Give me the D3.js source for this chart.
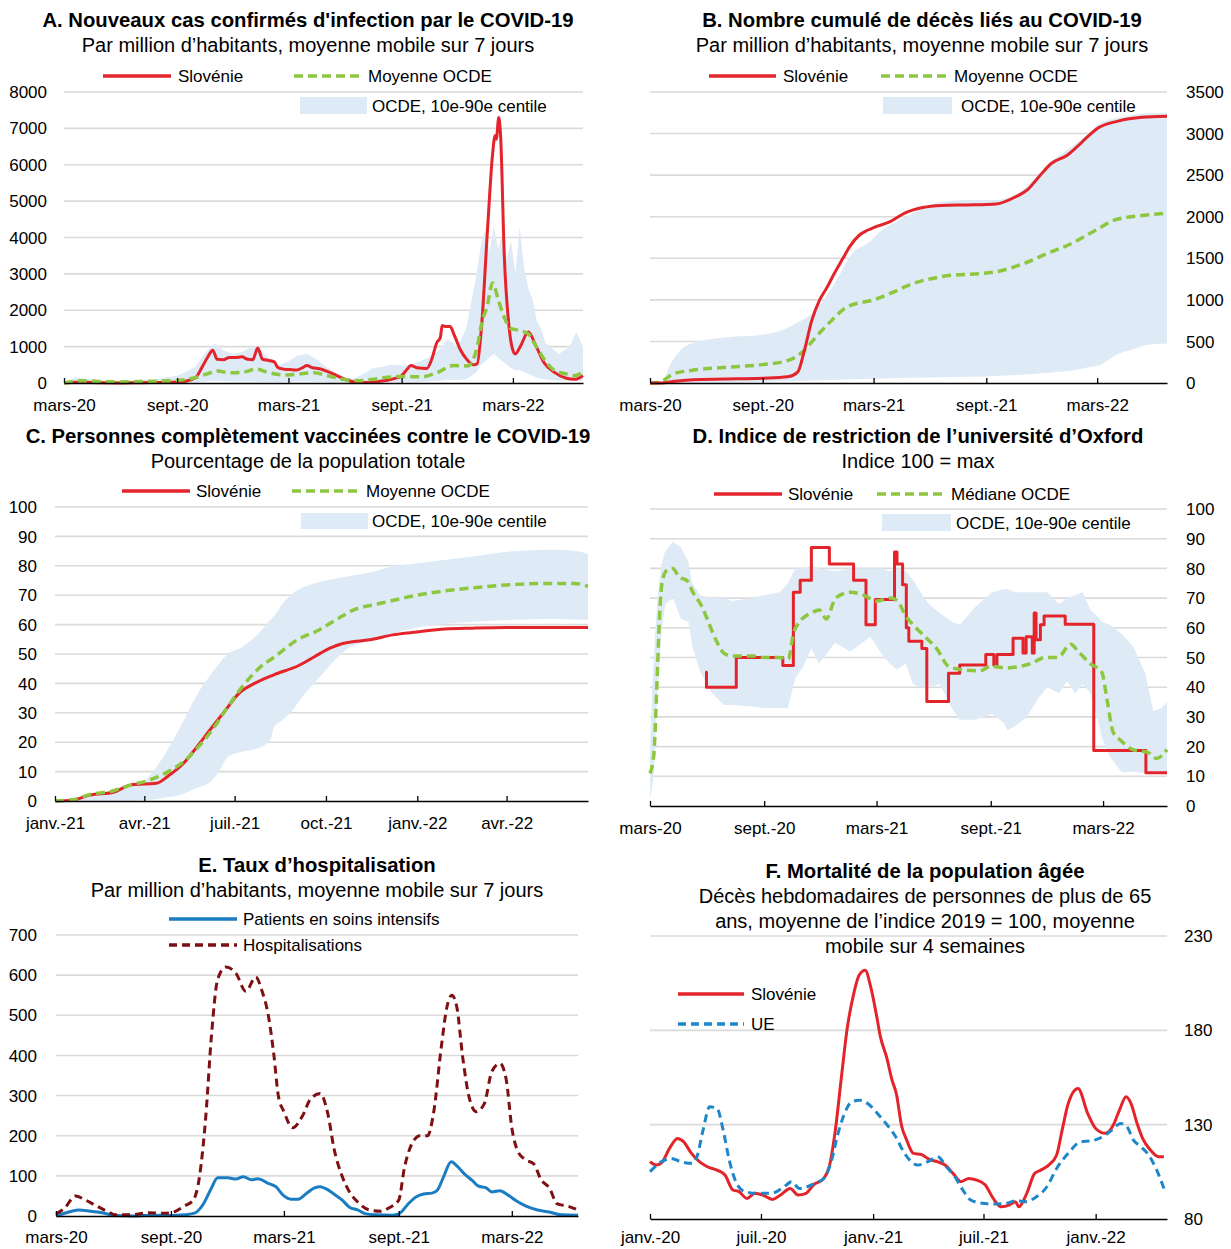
<!DOCTYPE html>
<html lang="fr">
<head>
<meta charset="utf-8">
<script src="https://cdn.jsdelivr.net/npm/d3@7"></script>
<style>
  body { margin: 0; background: #fff; }
  svg { display: block; }
</style>
</head>
<body>
<svg id="chart" width="1231" height="1249"></svg>
<script>
// ---------- Data ----------
// A. New confirmed cases per million, 7-day average
const casesSlovenia = [["2020-03-01",0],["2020-03-20",20],["2020-04-01",30],["2020-04-15",15],["2020-05-01",5],["2020-06-01",3],["2020-07-01",10],["2020-08-01",15],["2020-09-01",25],["2020-09-15",50],["2020-10-01",150],["2020-10-12",450],["2020-10-22",750],["2020-10-29",900],["2020-11-05",650],["2020-11-15",640],["2020-11-25",700],["2020-12-05",700],["2020-12-15",720],["2020-12-25",650],["2021-01-02",640],["2021-01-10",960],["2021-01-18",650],["2021-01-28",620],["2021-02-06",580],["2021-02-12",420],["2021-02-22",380],["2021-03-03",370],["2021-03-15",360],["2021-03-25",430],["2021-03-31",480],["2021-04-09",420],["2021-04-20",390],["2021-04-28",350],["2021-05-10",270],["2021-05-23",170],["2021-06-05",80],["2021-06-20",20],["2021-07-05",15],["2021-07-20",30],["2021-08-06",70],["2021-08-20",120],["2021-09-01",200],["2021-09-10",380],["2021-09-16",480],["2021-09-26",420],["2021-10-12",400],["2021-10-21",700],["2021-10-28",1100],["2021-11-03",1250],["2021-11-06",1580],["2021-11-12",1550],["2021-11-19",1550],["2021-11-26",1300],["2021-12-06",900],["2021-12-16",650],["2021-12-27",500],["2022-01-02",530],["2022-01-09",1550],["2022-01-19",4300],["2022-01-27",6300],["2022-01-31",6800],["2022-02-02",6700],["2022-02-06",7300],["2022-02-09",6800],["2022-02-15",3500],["2022-02-23",1500],["2022-03-01",900],["2022-03-05",800],["2022-03-13",1000],["2022-03-26",1400],["2022-04-08",1000],["2022-04-21",550],["2022-05-07",300],["2022-05-27",130],["2022-06-09",100],["2022-06-23",200]];
const casesOecd = [["2020-03-01",0],["2020-04-01",60],["2020-05-01",40],["2020-06-01",30],["2020-07-01",40],["2020-08-01",50],["2020-09-01",70],["2020-10-01",150],["2020-10-20",250],["2020-11-05",330],["2020-11-25",280],["2020-12-15",290],["2021-01-08",380],["2021-01-25",300],["2021-02-10",240],["2021-03-01",220],["2021-03-25",260],["2021-04-12",280],["2021-05-01",210],["2021-05-25",110],["2021-06-20",60],["2021-07-15",100],["2021-08-10",160],["2021-09-01",180],["2021-10-05",170],["2021-10-28",280],["2021-11-25",480],["2021-12-18",470],["2022-01-02",1000],["2022-01-10",1700],["2022-01-18",2100],["2022-01-27",2750],["2022-02-05",2300],["2022-02-15",1800],["2022-02-25",1500],["2022-03-10",1450],["2022-03-26",1350],["2022-04-08",1000],["2022-04-21",650],["2022-05-07",350],["2022-05-27",250],["2022-06-09",200],["2022-06-23",300]];
const casesBand = [["2020-03-01",0,20],["2020-03-20",0,150],["2020-04-05",0,120],["2020-05-01",0,60],["2020-06-01",0,40],["2020-07-01",0,80],["2020-08-01",0,120],["2020-09-01",5,200],["2020-09-15",10,300],["2020-10-01",20,450],["2020-10-15",40,800],["2020-11-01",60,1100],["2020-11-15",50,900],["2020-12-01",40,800],["2020-12-15",40,850],["2021-01-01",40,1000],["2021-01-15",30,900],["2021-02-01",30,600],["2021-02-15",30,500],["2021-03-01",30,600],["2021-03-15",40,750],["2021-04-01",40,800],["2021-04-15",30,650],["2021-05-01",20,450],["2021-05-15",10,300],["2021-06-01",5,150],["2021-06-15",5,120],["2021-07-01",10,250],["2021-07-15",20,400],["2021-08-01",20,450],["2021-08-15",20,500],["2021-09-01",20,480],["2021-09-15",20,500],["2021-10-01",30,600],["2021-10-15",40,700],["2021-11-01",60,900],["2021-11-15",80,1200],["2021-12-01",80,1000],["2021-12-15",100,1500],["2022-01-01",300,3000],["2022-01-08",500,3800],["2022-01-15",600,4200],["2022-01-22",700,3600],["2022-01-29",800,4300],["2022-02-05",700,3700],["2022-02-12",600,4100],["2022-02-19",500,3400],["2022-02-26",400,3900],["2022-03-05",350,3000],["2022-03-12",350,4300],["2022-03-19",300,3200],["2022-03-26",250,2600],["2022-04-02",200,2300],["2022-04-09",150,1700],["2022-04-16",120,1500],["2022-04-23",100,1100],["2022-05-01",80,1000],["2022-05-15",60,800],["2022-06-01",60,1000],["2022-06-12",60,1400],["2022-06-23",60,1000]];

// B. Cumulative deaths per million
const deathsSlovenia = [["2020-03-01",0],["2020-03-20",0],["2020-04-10",20],["2020-05-10",40],["2020-07-01",48],["2020-09-01",58],["2020-10-12",75],["2020-10-28",130],["2020-11-08",390],["2020-11-20",750],["2020-12-03",1000],["2020-12-15",1150],["2020-12-27",1320],["2021-01-10",1500],["2021-01-21",1640],["2021-02-06",1780],["2021-02-20",1840],["2021-03-01",1870],["2021-03-28",1940],["2021-04-20",2040],["2021-05-20",2110],["2021-06-20",2135],["2021-08-01",2142],["2021-09-17",2154],["2021-10-19",2240],["2021-11-08",2330],["2021-11-27",2490],["2021-12-16",2640],["2022-01-11",2740],["2022-01-27",2840],["2022-02-13",2960],["2022-03-03",3070],["2022-04-04",3150],["2022-05-13",3195],["2022-06-23",3207]];
const deathsOecd = [["2020-03-01",0],["2020-03-15",5],["2020-04-09",112],["2020-05-10",153],["2020-07-12",193],["2020-09-01",221],["2020-10-13",273],["2020-11-08",394],["2020-11-27",555],["2020-12-23",756],["2021-01-17",916],["2021-03-01",1000],["2021-03-28",1077],["2021-05-05",1198],["2021-06-19",1278],["2021-09-17",1338],["2021-11-02",1439],["2021-12-10",1560],["2022-01-19",1680],["2022-02-27",1841],["2022-03-30",1961],["2022-05-08",2010],["2022-06-23",2042]];
const deathsBand = [["2020-03-01",0,0],["2020-03-20",0,20],["2020-04-05",0,250],["2020-04-25",0,430],["2020-05-20",0,500],["2020-07-05",5,550],["2020-09-01",15,580],["2020-10-01",20,630],["2020-10-25",25,715],["2020-11-20",30,835],["2020-12-15",35,1055],["2021-01-03",40,1280],["2021-01-25",45,1560],["2021-02-20",50,1680],["2021-03-15",55,1840],["2021-04-10",60,1950],["2021-05-15",65,2080],["2021-06-20",70,2180],["2021-08-01",75,2200],["2021-09-15",85,2200],["2021-10-20",95,2270],["2021-11-20",110,2470],["2021-12-20",130,2680],["2022-01-20",150,2850],["2022-02-15",190,3000],["2022-03-03",210,3110],["2022-04-04",350,3190],["2022-04-30",410,3225],["2022-05-18",455,3240],["2022-06-23",475,3250]];

// C. Fully vaccinated, % of population
const vaccSlovenia = [["2021-01-01",0],["2021-01-19",0.3],["2021-02-05",2],["2021-03-01",3],["2021-03-19",5.5],["2021-04-13",6],["2021-04-25",8.5],["2021-05-11",13],["2021-05-23",18],["2021-06-08",25],["2021-06-22",31],["2021-07-05",36.5],["2021-07-21",40],["2021-08-10",43],["2021-09-03",46],["2021-09-19",49],["2021-10-05",52],["2021-10-17",53.5],["2021-11-17",55],["2021-12-07",56.5],["2022-01-01",57.5],["2022-01-29",58.5],["2022-02-26",58.8],["2022-04-01",59],["2022-06-22",59]];
const vaccOecd = [["2021-01-01",0],["2021-01-20",0.5],["2021-02-05",2.2],["2021-03-01",3.5],["2021-03-19",5.5],["2021-04-05",7],["2021-04-25",10],["2021-05-11",13.5],["2021-05-23",17.5],["2021-06-08",24],["2021-06-24",32],["2021-07-09",39],["2021-07-25",45],["2021-08-10",49],["2021-09-03",55],["2021-09-23",58],["2021-10-13",62],["2021-10-29",65],["2021-11-22",67],["2022-01-01",70],["2022-01-29",71.5],["2022-02-26",72.5],["2022-04-01",73.5],["2022-05-07",74],["2022-06-08",74],["2022-06-22",73]];
const vaccBand = [["2021-01-01",0,0.3],["2021-02-01",0,1.5],["2021-03-01",0,3],["2021-03-19",0,5],["2021-04-04",0.3,7.7],["2021-04-20",1,15],["2021-05-07",2,25],["2021-05-23",4.3,35.5],["2021-06-08",7,43.5],["2021-06-16",10.5,47],["2021-06-24",15,50],["2021-07-09",16.8,52.5],["2021-07-25",18,57],["2021-08-06",20.8,61.6],["2021-08-10",25.3,63],["2021-08-18",27.5,67],["2021-08-26",29.9,70],["2021-09-07",35.5,72.5],["2021-09-19",40,74],["2021-10-01",44.6,75],["2021-10-13",49,75.8],["2021-10-21",51.4,76.3],["2021-11-17",54.8,78],["2021-12-07",57,79.8],["2021-12-28",58.8,80.7],["2022-01-16",59.8,81.5],["2022-02-05",60.5,82.3],["2022-02-26",61,83.2],["2022-04-05",61.6,84.9],["2022-05-18",61.9,85.5],["2022-06-10",61.7,85],["2022-06-22",61.6,84]];

// D. Oxford stringency index
const stringencySlovenia = [["2020-05-29",45],["2020-05-31",40],["2020-07-18",50],["2020-10-01",47.3],["2020-10-18",72],["2020-10-29",76],["2020-11-16",87],["2020-12-15",81.5],["2021-01-23",76],["2021-02-12",61],["2021-02-27",69.5],["2021-03-30",85.5],["2021-04-03",81.5],["2021-04-12",74.5],["2021-04-18",60],["2021-04-22",55.5],["2021-05-13",53],["2021-05-21",35.2],["2021-06-25",44.7],["2021-07-13",47.5],["2021-08-24",51],["2021-09-06",47.5],["2021-09-11",51],["2021-10-07",56.5],["2021-10-23",51.5],["2021-10-28",57],["2021-11-07",51.5],["2021-11-10",65],["2021-11-13",56],["2021-11-20",61],["2021-11-26",64],["2021-12-30",61.2],["2022-02-14",18.7],["2022-05-09",11.2],["2022-06-12",11.2]];
const stringencyOecd = [["2020-03-01",11],["2020-03-07",17],["2020-03-12",40],["2020-03-16",62],["2020-03-21",76],["2020-03-29",79.5],["2020-04-07",80],["2020-04-17",77],["2020-04-29",76],["2020-05-09",72],["2020-05-24",67],["2020-06-03",62],["2020-06-15",56],["2020-06-28",51.5],["2020-07-11",50.5],["2020-08-15",50.5],["2020-09-01",50],["2020-09-26",50],["2020-10-10",49.5],["2020-10-18",58],["2020-10-28",62],["2020-11-16",65],["2020-11-29",66],["2020-12-10",63],["2020-12-25",70],["2021-01-19",72],["2021-02-08",71],["2021-03-01",69],["2021-03-24",70],["2021-04-04",69],["2021-04-17",64],["2021-04-29",61],["2021-05-18",57],["2021-06-06",53],["2021-06-25",47],["2021-07-13",46],["2021-08-14",45.5],["2021-09-01",47],["2021-09-28",46.5],["2021-11-05",48],["2021-11-28",50],["2021-12-18",50],["2022-01-08",54.5],["2022-01-20",52],["2022-02-08",48],["2022-02-27",45],["2022-03-08",35],["2022-03-17",25],["2022-03-30",22],["2022-04-18",19],["2022-05-13",18],["2022-05-26",16],["2022-06-12",19]];
const stringencyBand = [["2020-03-01",2,20],["2020-03-07",10,50],["2020-03-13",38,70],["2020-03-20",60,82],["2020-03-26",68,86],["2020-04-07",70,89],["2020-04-20",63,87],["2020-05-02",62,82],["2020-05-08",54,75],["2020-05-21",45,71],["2020-06-09",38,70],["2020-06-28",34,70],["2020-07-11",34,69],["2020-08-12",33.5,70],["2020-09-01",33,71],["2020-09-26",33,72],["2020-10-09",33,75],["2020-10-21",43,80],["2020-11-03",47,80],["2020-11-16",53,81],["2020-11-28",48,80],["2020-12-24",55,79],["2021-01-18",52,80],["2021-02-19",57,80],["2021-03-10",51,80],["2021-03-22",48,79],["2021-04-03",46,80],["2021-04-17",48,79],["2021-04-29",41,76],["2021-05-11",40,72],["2021-05-24",40,68],["2021-06-11",41,65],["2021-06-30",33,62],["2021-07-13",29,61],["2021-08-07",29,67],["2021-09-03",31,72],["2021-09-22",28,73],["2021-09-28",25.5,73],["2021-10-11",27,72],["2021-10-29",30,72],["2021-11-18",36.7,72],["2021-12-01",40,72],["2021-12-20",38,68],["2022-01-02",42,70],["2022-01-15",38,71],["2022-01-27",41,72],["2022-02-09",38,66],["2022-02-19",30,64],["2022-02-27",23,62],["2022-03-12",16.5,61],["2022-03-31",11.4,58],["2022-04-19",11.5,53.5],["2022-05-08",11,44.6],["2022-05-21",11,32],["2022-06-03",11,33],["2022-06-12",11,35]];

// E. Hospitalisation rates per million
const icuPatients = [["2020-03-01",0],["2020-03-18",8],["2020-04-06",15],["2020-04-25",12],["2020-05-14",8],["2020-06-04",1],["2020-07-01",0],["2020-08-08",2],["2020-09-01",1],["2020-09-23",3],["2020-10-10",8],["2020-10-23",30],["2020-11-05",70],["2020-11-15",95],["2020-12-01",95],["2020-12-14",92],["2020-12-26",98],["2021-01-08",90],["2021-01-18",93],["2021-02-03",82],["2021-02-16",73],["2021-03-01",50],["2021-03-12",42],["2021-03-24",42],["2021-04-05",55],["2021-04-19",70],["2021-04-28",73],["2021-05-07",68],["2021-05-20",55],["2021-06-02",40],["2021-06-14",22],["2021-06-27",15],["2021-07-09",6],["2021-07-25",3],["2021-08-22",2],["2021-09-01",5],["2021-09-16",30],["2021-09-29",48],["2021-10-11",55],["2021-10-24",57],["2021-11-02",65],["2021-11-11",95],["2021-11-24",135],["2021-12-03",125],["2021-12-15",105],["2021-12-28",88],["2022-01-06",75],["2022-01-19",70],["2022-01-28",60],["2022-02-10",63],["2022-02-23",52],["2022-03-08",38],["2022-03-23",25],["2022-04-11",15],["2022-04-30",10],["2022-05-19",3],["2022-06-15",2]];
const hospitalisations = [["2020-03-01",5],["2020-03-15",20],["2020-04-01",50],["2020-04-17",40],["2020-05-05",25],["2020-05-24",10],["2020-06-04",3],["2020-07-01",3],["2020-07-25",8],["2020-08-20",7],["2020-09-01",8],["2020-09-23",25],["2020-10-07",40],["2020-10-17",100],["2020-10-27",250],["2020-11-05",450],["2020-11-15",590],["2020-11-28",620],["2020-12-14",605],["2020-12-30",560],["2021-01-15",595],["2021-01-25",560],["2021-02-04",500],["2021-02-13",400],["2021-02-20",300],["2021-03-01",260],["2021-03-15",220],["2021-03-31",250],["2021-04-12",290],["2021-04-28",305],["2021-05-11",250],["2021-05-20",170],["2021-06-02",100],["2021-06-14",60],["2021-06-27",35],["2021-07-16",15],["2021-08-04",12],["2021-08-16",20],["2021-09-01",40],["2021-09-10",120],["2021-09-22",180],["2021-10-05",200],["2021-10-17",200],["2021-10-27",260],["2021-11-08",420],["2021-11-17",520],["2021-11-25",550],["2021-12-03",520],["2021-12-12",400],["2021-12-22",300],["2022-01-03",260],["2022-01-16",280],["2022-01-28",360],["2022-02-10",380],["2022-02-20",340],["2022-03-01",220],["2022-03-11",160],["2022-03-23",140],["2022-04-05",130],["2022-04-17",90],["2022-04-30",70],["2022-05-13",30],["2022-05-29",25],["2022-06-15",15]];

// F. Weekly deaths of people aged 65+, 2019 average = 100
const mortalitySlovenia = [["2020-01-01",110.4],["2020-01-11",108.6],["2020-01-20",109.8],["2020-02-02",117.4],["2020-02-15",122.7],["2020-02-25",121],["2020-03-09",114.8],["2020-03-22",110.4],["2020-04-04",107.7],["2020-04-20",105.9],["2020-05-03",103.3],["2020-05-16",95.4],["2020-05-26",94.5],["2020-06-08",90.9],["2020-06-21",93.6],["2020-07-04",92.7],["2020-07-20",90.4],["2020-08-02",92.7],["2020-08-18",96.2],["2020-08-31",92.7],["2020-09-13",93.6],["2020-09-25",98],["2020-10-12",101.5],["2020-10-21",107.7],["2020-10-31",127.1],["2020-11-10",155.3],["2020-11-19",180],["2020-11-29",197.7],["2020-12-09",209.2],["2020-12-19",211.8],["2020-12-28",203],["2021-01-07",187.1],["2021-01-13",176.5],["2021-01-23",165.9],["2021-02-01",153.6],["2021-02-08",146.5],["2021-02-17",128.9],["2021-02-24",122.7],["2021-03-08",114.8],["2021-03-21",114.2],["2021-04-03",111.6],["2021-04-16",110.4],["2021-04-29",108.6],["2021-05-12",104.2],["2021-05-25",99.8],["2021-06-07",101.5],["2021-06-20",100.6],["2021-07-04",98],["2021-07-17",90.9],["2021-07-30",86.5],["2021-08-12",87.4],["2021-08-22",89.2],["2021-08-28",86.5],["2021-09-10",93.6],["2021-09-23",104.2],["2021-10-03",105.9],["2021-10-16",108.6],["2021-10-29",113.9],["2021-11-07",127.1],["2021-11-17",141.2],["2021-12-03",149.2],["2021-12-19",135.9],["2022-01-01",128],["2022-01-17",125.4],["2022-01-30",129.8],["2022-02-09",137.7],["2022-02-20",144.8],["2022-02-28",141.2],["2022-03-10",130.6],["2022-03-19",122.7],["2022-04-01",116.5],["2022-04-14",113],["2022-04-23",113]];
const mortalityEU = [["2020-01-01",105.1],["2020-01-20",110.4],["2020-02-05",112.1],["2020-02-20",110.4],["2020-03-10",109.5],["2020-03-18",113],["2020-03-28",127.1],["2020-04-08",139.5],["2020-04-20",138.6],["2020-04-30",127.1],["2020-05-10",111.2],["2020-05-22",98.9],["2020-06-05",94.5],["2020-06-25",93.6],["2020-07-18",93.6],["2020-08-08",97.1],["2020-08-20",99.8],["2020-09-02",96.2],["2020-09-15",97.1],["2020-09-27",98.9],["2020-10-12",101.5],["2020-10-25",111.2],["2020-11-03",123.6],["2020-11-13",134.2],["2020-11-27",142.1],["2020-12-10",143],["2020-12-23",141.2],["2021-01-08",135.9],["2021-01-24",129.8],["2021-02-07",123.6],["2021-02-20",115.6],["2021-03-02",111.2],["2021-03-15",108.6],["2021-04-01",110.4],["2021-04-17",113],["2021-05-01",107.7],["2021-05-15",102.4],["2021-05-28",95.4],["2021-06-10",90.1],["2021-06-29",88.3],["2021-07-17",87.9],["2021-08-06",88.3],["2021-08-25",89.7],["2021-09-07",89.2],["2021-09-26",91.8],["2021-10-13",97.1],["2021-10-29",106.8],["2021-11-17",114.8],["2021-12-07",120.9],["2021-12-26",121.5],["2022-01-17",124.5],["2022-01-27",127],["2022-02-11",130.6],["2022-02-21",129],["2022-03-04",121.8],["2022-03-16",118.3],["2022-03-29",113.9],["2022-04-11",106],["2022-04-23",96.2]];

// Axis ticks
const ticksMarSep = ["2020-03-01","2020-09-01","2021-03-01","2021-09-01","2022-03-01"];
const ticksQuarter = ["2021-01-01","2021-04-01","2021-07-01","2021-10-01","2022-01-01","2022-04-01"];
const ticksJanJul = ["2020-01-01","2020-07-01","2021-01-01","2021-07-01","2022-01-01"];
const ticksCases = d3.range(0, 8001, 1000);
const ticksDeaths = d3.range(0, 3501, 500);
const ticksPercent = d3.range(0, 101, 10);
const ticksHosp = d3.range(0, 701, 100);
const ticksMortality = [80, 130, 180, 230];

// ---------- Styling ----------
const FONT = "'Liberation Sans', Arial, Helvetica, sans-serif";
const RED = "#e3242b", GREEN = "#8dc63f", BAND = "#deeaf6", GRID = "#dadada";
const ICU = "#1a7cc2", HOSP = "#7e0f13", EU = "#1d87ca";

const parse = d3.timeParse("%Y-%m-%d");
const fr = d3.timeFormatLocale({
  dateTime: "%A %e %B %Y à %X", date: "%d/%m/%Y", time: "%H:%M:%S", periods: ["AM", "PM"],
  days: ["dimanche","lundi","mardi","mercredi","jeudi","vendredi","samedi"],
  shortDays: ["dim.","lun.","mar.","mer.","jeu.","ven.","sam."],
  months: ["janvier","février","mars","avril","mai","juin","juillet","août","septembre","octobre","novembre","décembre"],
  shortMonths: ["janv.","févr.","mars","avr.","mai","juin","juil.","août","sept.","oct.","nov.","déc."]
});
const fmt = fr.format("%b-%y");

const toPts = arr => arr.map(([d, v]) => ({ date: parse(d), value: v }));
const toBand = arr => arr.map(([d, lo, hi]) => ({ date: parse(d), lo, hi }));

const svg = d3.select("#chart").attr("font-family", FONT);

function panel(p) {
  const g = svg.append("g");
  const x = d3.scaleTime().domain(p.xDomain.map(parse)).range(p.xRange);
  const y = d3.scaleLinear().domain(p.yDomain).range(p.yRange);

  // horizontal gridlines
  g.append("g").selectAll("line").data(p.yTicks.slice(1)).join("line")
    .attr("x1", p.xRange[0]).attr("x2", p.xRange[1])
    .attr("y1", d => y(d)).attr("y2", d => y(d))
    .attr("stroke", GRID).attr("stroke-width", 1.6);

  // 10th-90th percentile band
  if (p.band) {
    const area = d3.area().x(d => x(d.date)).y0(d => y(d.lo)).y1(d => y(d.hi))
      .curve(p.bandCurve || d3.curveMonotoneX);
    g.append("path").datum(toBand(p.band)).attr("d", area).attr("fill", BAND);
  }

  // series
  p.series.forEach(s => {
    const line = d3.line().x(d => x(d.date)).y(d => y(d.value)).curve(s.curve || d3.curveMonotoneX);
    g.append("path").datum(toPts(s.data)).attr("d", line)
      .attr("fill", "none").attr("stroke", s.color).attr("stroke-width", s.width || 3)
      .attr("stroke-dasharray", s.dash || null)
      .attr("stroke-linejoin", "round");
  });

  // x axis with inward ticks
  const axis = d3.axisBottom(x).tickValues(p.xTicks.map(parse)).tickFormat(fmt)
    .tickSizeInner(-5).tickSizeOuter(0).tickPadding(p.xPad || 16);
  const ag = g.append("g").attr("transform", `translate(0,${p.yRange[0]})`).call(axis);
  ag.attr("font-family", FONT).attr("font-size", 17);
  ag.select(".domain").attr("stroke", "#000").attr("stroke-width", 1.4);
  ag.selectAll(".tick line").attr("stroke", "#000").attr("stroke-width", 1.3);
  ag.selectAll(".tick text").attr("fill", "#000");

  // y labels
  g.append("g").selectAll("text").data(p.yTicks).join("text")
    .attr("x", p.yLabelX).attr("y", d => y(d)).attr("dy", "0.36em")
    .attr("text-anchor", p.yAnchor).attr("font-size", 17).attr("fill", "#000")
    .text(d => d);

  // title and subtitle
  g.append("text").attr("x", p.cx).attr("y", p.titleY).attr("text-anchor", "middle")
    .attr("font-size", 20.3).attr("font-weight", "bold").attr("fill", "#000").text(p.title);
  p.subtitle.forEach((t, i) => {
    g.append("text").attr("x", p.cx).attr("y", p.titleY + 25 * (i + 1)).attr("text-anchor", "middle")
      .attr("font-size", 20).attr("fill", "#000").text(t);
  });

  // legend
  p.legend.forEach(L => {
    if (L.type === "rect") {
      g.append("rect").attr("x", L.x).attr("y", L.y).attr("width", L.w).attr("height", L.h).attr("fill", BAND);
      g.append("text").attr("x", L.tx).attr("y", L.y + L.h / 2).attr("dy", "0.36em")
        .attr("font-size", 17).attr("fill", "#000").text(L.text);
    } else {
      g.append("line").attr("x1", L.x1).attr("x2", L.x2).attr("y1", L.y).attr("y2", L.y)
        .attr("stroke", L.color).attr("stroke-width", L.width || 3.5)
        .attr("stroke-dasharray", L.dash || null);
      g.append("text").attr("x", L.tx).attr("y", L.y).attr("dy", "0.36em")
        .attr("font-size", 17).attr("fill", "#000").text(L.text);
    }
  });
}

const DASH = "9,5";

panel({
  title: "A. Nouveaux cas confirmés d'infection par le COVID-19",
  subtitle: ["Par million d’habitants, moyenne mobile sur 7 jours"],
  cx: 308, titleY: 27,
  xDomain: ["2020-03-01", "2022-06-23"], xRange: [64, 583], xTicks: ticksMarSep,
  yDomain: [0, 8000], yRange: [383, 92], yTicks: ticksCases, yLabelX: 47, yAnchor: "end",
  band: casesBand, bandCurve: d3.curveLinear,
  series: [
    { data: casesSlovenia, color: RED, width: 3 },
    { data: casesOecd, color: GREEN, width: 3.5, dash: DASH }
  ],
  legend: [
    { x1: 103, x2: 171, y: 76, color: RED, text: "Slovénie", tx: 178 },
    { x1: 294, x2: 362, y: 76, color: GREEN, dash: DASH, text: "Moyenne OCDE", tx: 368 },
    { type: "rect", x: 300, y: 97, w: 67, h: 17, text: "OCDE, 10e-90e centile", tx: 372 }
  ]
});

panel({
  title: "B. Nombre cumulé de décès liés au COVID-19",
  subtitle: ["Par million d’habitants, moyenne mobile sur 7 jours"],
  cx: 922, titleY: 27,
  xDomain: ["2020-03-01", "2022-06-23"], xRange: [650, 1167], xTicks: ticksMarSep,
  yDomain: [0, 3500], yRange: [383, 92], yTicks: ticksDeaths, yLabelX: 1186, yAnchor: "start",
  band: deathsBand,
  series: [
    { data: deathsOecd, color: GREEN, width: 3.5, dash: DASH },
    { data: deathsSlovenia, color: RED, width: 3 }
  ],
  legend: [
    { x1: 709, x2: 776, y: 76, color: RED, text: "Slovénie", tx: 783 },
    { x1: 881, x2: 950, y: 76, color: GREEN, dash: DASH, text: "Moyenne OCDE", tx: 954 },
    { type: "rect", x: 883, y: 97, w: 69, h: 17, text: "OCDE, 10e-90e centile", tx: 961 }
  ]
});

panel({
  title: "C. Personnes complètement vaccinées contre le COVID-19",
  subtitle: ["Pourcentage de la population totale"],
  cx: 308, titleY: 443,
  xDomain: ["2021-01-01", "2022-06-22"], xRange: [55, 588], xTicks: ticksQuarter,
  yDomain: [0, 100], yRange: [801, 507], yTicks: ticksPercent, yLabelX: 37, yAnchor: "end",
  band: vaccBand,
  series: [
    { data: vaccSlovenia, color: RED, width: 3 },
    { data: vaccOecd, color: GREEN, width: 3.5, dash: DASH }
  ],
  legend: [
    { x1: 122, x2: 190, y: 491, color: RED, text: "Slovénie", tx: 196 },
    { x1: 292, x2: 360, y: 491, color: GREEN, dash: DASH, text: "Moyenne OCDE", tx: 366 },
    { type: "rect", x: 301, y: 513, w: 67, h: 16, text: "OCDE, 10e-90e centile", tx: 372 }
  ]
});

panel({
  title: "D. Indice de restriction de l’université d’Oxford",
  subtitle: ["Indice 100 = max"],
  cx: 918, titleY: 443,
  xDomain: ["2020-03-01", "2022-06-12"], xRange: [650, 1167], xTicks: ticksMarSep,
  yDomain: [0, 100], yRange: [806, 509], yTicks: ticksPercent, yLabelX: 1186, yAnchor: "start",
  band: stringencyBand, bandCurve: d3.curveLinear,
  series: [
    { data: stringencySlovenia, color: RED, width: 3, curve: d3.curveStepAfter },
    { data: stringencyOecd, color: GREEN, width: 3.5, dash: DASH }
  ],
  legend: [
    { x1: 714, x2: 782, y: 494, color: RED, text: "Slovénie", tx: 788 },
    { x1: 877, x2: 946, y: 494, color: GREEN, dash: DASH, text: "Médiane OCDE", tx: 951 },
    { type: "rect", x: 882, y: 514, w: 69, h: 17, text: "OCDE, 10e-90e centile", tx: 956 }
  ]
});

panel({
  title: "E. Taux d’hospitalisation",
  subtitle: ["Par million d’habitants, moyenne mobile sur 7 jours"],
  cx: 317, titleY: 872,
  xDomain: ["2020-03-01", "2022-06-15"], xRange: [56, 578], xTicks: ticksMarSep,
  yDomain: [0, 700], yRange: [1216, 935], yTicks: ticksHosp, yLabelX: 37, yAnchor: "end",
  xPad: 15,
  series: [
    { data: icuPatients, color: ICU, width: 3 },
    { data: hospitalisations, color: HOSP, width: 3, dash: "8,5" }
  ],
  legend: [
    { x1: 169, x2: 237, y: 919, color: ICU, text: "Patients en soins intensifs", tx: 243 },
    { x1: 169, x2: 237, y: 945, color: HOSP, dash: "8,5", text: "Hospitalisations", tx: 243 }
  ]
});

panel({
  title: "F. Mortalité de la population âgée",
  subtitle: ["Décès hebdomadaires de personnes de plus de 65", "ans, moyenne de l’indice 2019 = 100, moyenne", "mobile sur 4 semaines"],
  cx: 925, titleY: 878,
  xDomain: ["2020-01-01", "2022-04-28"], xRange: [650, 1167], xTicks: ticksJanJul,
  yDomain: [80, 230], yRange: [1219, 936], yTicks: ticksMortality, yLabelX: 1184, yAnchor: "start",
  xPad: 12,
  series: [
    { data: mortalitySlovenia, color: RED, width: 3 },
    { data: mortalityEU, color: EU, width: 3, dash: "8,5" }
  ],
  legend: [
    { x1: 678, x2: 744, y: 994, color: RED, text: "Slovénie", tx: 751 },
    { x1: 678, x2: 744, y: 1024, color: EU, dash: "8,5", text: "UE", tx: 751 }
  ]
});
</script>
</body>
</html>
